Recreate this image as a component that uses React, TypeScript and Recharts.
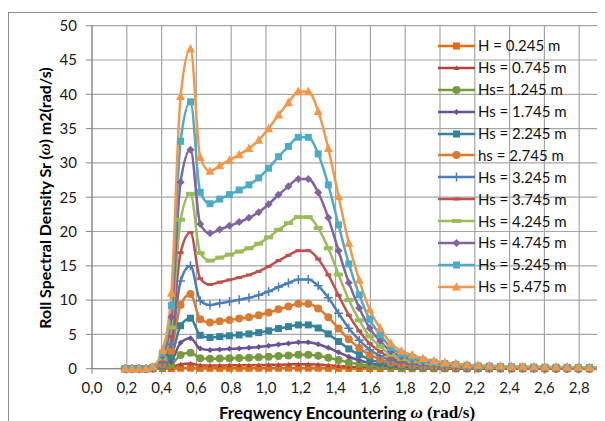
import React from 'react';
import { LineChart, Line, XAxis, YAxis, CartesianGrid, Legend, Customized } from 'recharts';

// encounter frequency (rad/s)
const FREQ = [0.19, 0.23, 0.27, 0.31, 0.35, 0.405, 0.456, 0.509, 0.566, 0.622, 0.678, 0.734, 0.79, 0.846, 0.902, 0.958, 1.015, 1.072, 1.129, 1.186, 1.243, 1.3, 1.358, 1.417, 1.476, 1.536, 1.596, 1.656, 1.717, 1.778, 1.84, 1.902, 1.965, 2.028, 2.091, 2.155, 2.219, 2.283, 2.347, 2.411, 2.475, 2.539, 2.603, 2.667, 2.731, 2.795, 2.859, 2.923, 2.987];

const HS_0245 = [0, 0, 0, 0, 0, 0.01, 0.02, 0.08, 0.09, 0.06, 0.06, 0.06, 0.06, 0.06, 0.06, 0.07, 0.07, 0.07, 0.08, 0.08, 0.08, 0.08, 0.06, 0.05, 0.04, 0.03, 0.02, 0.01, 0.01, 0.01, 0, 0, 0, 0, 0, 0, 0, 0, 0, 0, 0, 0, 0, 0, 0, 0, 0, 0, 0];
const HS_0745 = [0, 0, 0, 0, 0, 0.04, 0.18, 0.64, 0.75, 0.49, 0.46, 0.47, 0.49, 0.5, 0.51, 0.53, 0.56, 0.59, 0.62, 0.65, 0.65, 0.6, 0.51, 0.4, 0.29, 0.21, 0.14, 0.09, 0.06, 0.04, 0.03, 0.02, 0.02, 0.01, 0.01, 0.01, 0.01, 0, 0, 0, 0, 0, 0, 0, 0, 0, 0, 0, 0];
const HS_1245 = [0, 0, 0, 0, 0.02, 0.14, 0.55, 1.99, 2.33, 1.54, 1.44, 1.48, 1.52, 1.56, 1.61, 1.67, 1.75, 1.85, 1.94, 2.02, 2.02, 1.88, 1.61, 1.26, 0.92, 0.65, 0.43, 0.3, 0.19, 0.13, 0.1, 0.08, 0.06, 0.05, 0.04, 0.03, 0.03, 0.02, 0.02, 0.02, 0.02, 0.02, 0.01, 0.01, 0.01, 0.01, 0.01, 0.01, 0.01];
const HS_1745 = [0, 0, 0, 0, 0.03, 0.26, 1.05, 3.77, 4.43, 2.93, 2.74, 2.81, 2.89, 2.96, 3.05, 3.16, 3.33, 3.52, 3.69, 3.84, 3.84, 3.56, 3.05, 2.38, 1.74, 1.23, 0.82, 0.56, 0.35, 0.25, 0.19, 0.14, 0.11, 0.09, 0.07, 0.06, 0.05, 0.04, 0.04, 0.03, 0.03, 0.03, 0.03, 0.02, 0.02, 0.02, 0.02, 0.02, 0.02];
const HS_2245 = [0, 0, 0, 0, 0.05, 0.43, 1.74, 6.27, 7.36, 4.87, 4.55, 4.68, 4.8, 4.93, 5.07, 5.26, 5.53, 5.85, 6.13, 6.38, 6.38, 5.93, 5.07, 3.97, 2.89, 2.04, 1.36, 0.93, 0.58, 0.41, 0.32, 0.24, 0.18, 0.14, 0.12, 0.09, 0.08, 0.07, 0.06, 0.06, 0.05, 0.05, 0.04, 0.04, 0.04, 0.03, 0.03, 0.03, 0.03];
const HS_2745 = [0, 0, 0, 0, 0.07, 0.63, 2.57, 9.29, 10.9, 7.21, 6.74, 6.93, 7.11, 7.3, 7.51, 7.79, 8.19, 8.66, 9.08, 9.45, 9.45, 8.78, 7.51, 5.87, 4.28, 3.02, 2.01, 1.38, 0.87, 0.61, 0.47, 0.35, 0.27, 0.21, 0.18, 0.14, 0.12, 0.11, 0.09, 0.08, 0.07, 0.07, 0.07, 0.06, 0.06, 0.05, 0.05, 0.04, 0.04];
const HS_3245 = [0, 0, 0, 0, 0.1, 0.87, 3.54, 12.78, 15.01, 9.92, 9.27, 9.53, 9.79, 10.05, 10.34, 10.72, 11.27, 11.91, 12.49, 13.01, 13.01, 12.08, 10.34, 8.08, 5.89, 4.15, 2.77, 1.9, 1.19, 0.84, 0.64, 0.48, 0.37, 0.29, 0.24, 0.19, 0.16, 0.14, 0.13, 0.11, 0.1, 0.1, 0.09, 0.08, 0.08, 0.07, 0.06, 0.06, 0.06];
const HS_3745 = [0, 0, 0, 0, 0.13, 1.15, 4.69, 16.91, 19.85, 13.12, 12.27, 12.61, 12.95, 13.29, 13.67, 14.19, 14.91, 15.76, 16.53, 17.21, 17.21, 15.98, 13.67, 10.69, 7.8, 5.5, 3.66, 2.51, 1.58, 1.11, 0.85, 0.64, 0.49, 0.38, 0.32, 0.26, 0.21, 0.19, 0.17, 0.15, 0.14, 0.13, 0.12, 0.11, 0.1, 0.09, 0.09, 0.08, 0.08];
const HS_4245 = [0, 0, 0, 0, 0.16, 1.48, 6.02, 21.72, 25.49, 16.85, 15.75, 16.19, 16.63, 17.07, 17.56, 18.22, 19.15, 20.24, 21.22, 22.1, 22.1, 20.51, 17.56, 13.73, 10.01, 7.06, 4.7, 3.23, 2.02, 1.42, 1.09, 0.82, 0.63, 0.49, 0.41, 0.33, 0.27, 0.25, 0.22, 0.19, 0.18, 0.16, 0.15, 0.14, 0.13, 0.12, 0.11, 0.1, 0.1];
const HS_4745 = [0, 0, 0, 0, 0.21, 1.85, 7.54, 27.19, 31.92, 21.1, 19.73, 20.28, 20.82, 21.37, 21.99, 22.81, 23.98, 25.35, 26.58, 27.67, 27.67, 25.69, 21.99, 17.19, 12.54, 8.84, 5.89, 4.04, 2.53, 1.78, 1.37, 1.03, 0.79, 0.62, 0.51, 0.41, 0.34, 0.31, 0.27, 0.24, 0.22, 0.21, 0.19, 0.18, 0.16, 0.15, 0.14, 0.13, 0.12];
const HS_5245 = [0, 0, 0, 0, 0.25, 2.25, 9.19, 33.15, 38.91, 25.72, 24.05, 24.72, 25.38, 26.05, 26.8, 27.81, 29.23, 30.9, 32.4, 33.73, 33.73, 31.31, 26.8, 20.96, 15.28, 10.77, 7.18, 4.93, 3.09, 2.17, 1.67, 1.25, 0.96, 0.75, 0.63, 0.5, 0.42, 0.38, 0.33, 0.29, 0.27, 0.25, 0.23, 0.22, 0.2, 0.18, 0.17, 0.16, 0.15];
const HS_5475 = [0, 0, 0, 0, 0.3, 2.7, 11.0, 39.7, 46.6, 30.8, 28.8, 29.6, 30.4, 31.2, 32.1, 33.3, 35.0, 37.0, 38.8, 40.4, 40.4, 37.5, 32.1, 25.1, 18.3, 12.9, 8.6, 5.9, 3.7, 2.6, 2.0, 1.5, 1.15, 0.9, 0.75, 0.6, 0.5, 0.45, 0.4, 0.35, 0.32, 0.3, 0.28, 0.26, 0.24, 0.22, 0.2, 0.19, 0.18];

const SERIES_NAMES = ['H = 0.245 m', 'Hs = 0.745 m', 'Hs= 1.245 m', 'Hs = 1.745 m', 'Hs = 2.245 m', 'hs = 2.745 m', 'Hs = 3.245 m', 'Hs = 3.745 m', 'Hs = 4.245 m', 'Hs = 4.745 m', 'Hs = 5.245 m', 'Hs = 5.475 m'];
const SERIES_VALUES = [HS_0245, HS_0745, HS_1245, HS_1745, HS_2245, HS_2745, HS_3245, HS_3745, HS_4245, HS_4745, HS_5245, HS_5475];

const X_TICKS = [0, 0.2, 0.4, 0.6, 0.8, 1.0, 1.2, 1.4, 1.6, 1.8, 2.0, 2.2, 2.4, 2.6, 2.8, 3.0];
const Y_TICKS = [0, 5, 10, 15, 20, 25, 30, 35, 40, 45, 50];

type Shape = 'square' | 'triangle' | 'circle' | 'diamond' | 'plus' | 'dash';

const STYLES: { color: string; shape: Shape; size: number }[] = [
  { color: '#E46C0A', shape: 'square', size: 7 },
  { color: '#B3423F', shape: 'triangle', size: 5 },
  { color: '#779A3E', shape: 'circle', size: 8 },
  { color: '#6A5196', shape: 'diamond', size: 6 },
  { color: '#31849B', shape: 'square', size: 7 },
  { color: '#DA7B31', shape: 'circle', size: 8 },
  { color: '#4A7EBB', shape: 'plus', size: 9 },
  { color: '#C0504D', shape: 'dash', size: 6 },
  { color: '#9BBB59', shape: 'dash', size: 9 },
  { color: '#8064A2', shape: 'diamond', size: 8 },
  { color: '#4BACC6', shape: 'square', size: 7 },
  { color: '#F79646', shape: 'triangle', size: 9 },
];

const FONT = 'Lato, "Liberation Sans", sans-serif';

const data = FREQ.map((x, i) => {
  const row: Record<string, number> = { x };
  SERIES_VALUES.forEach((vals, s) => {
    row[`s${s}`] = vals[i];
  });
  return row;
});

const marker = (shape: Shape, size: number, color: string, cx: number, cy: number, key: string) => {
  const h = size / 2;
  switch (shape) {
    case 'square':
      return <rect key={key} x={cx - h} y={cy - h} width={size} height={size} fill={color} />;
    case 'circle':
      return <circle key={key} cx={cx} cy={cy} r={h} fill={color} />;
    case 'triangle':
      return <polygon key={key} points={`${cx},${cy - h * 1.1} ${cx + h},${cy + h * 0.8} ${cx - h},${cy + h * 0.8}`} fill={color} />;
    case 'diamond':
      return <polygon key={key} points={`${cx},${cy - h} ${cx + h},${cy} ${cx},${cy + h} ${cx - h},${cy}`} fill={color} />;
    case 'plus':
      return <path key={key} d={`M${cx - h},${cy}H${cx + h}M${cx},${cy - h}V${cy + h}`} stroke={color} strokeWidth={1.5} />;
    case 'dash':
    default:
      return <rect key={key} x={cx - h} y={cy - size / 6 - 0.5} width={size} height={size / 3 + 1} fill={color} />;
  }
};

const LegendBox = () => (
  <div style={{ fontFamily: FONT, fontSize: 15, color: '#111', lineHeight: 1 }}>
    {SERIES_NAMES.map((name, i) => {
      const st = STYLES[i];
      return (
        <div key={name} style={{ display: 'flex', alignItems: 'center', height: 21.9 }}>
          <svg width={37} height={14} style={{ display: 'block' }}>
            <line x1={0} y1={7} x2={37} y2={7} stroke={st.color} strokeWidth={2.5} />
            {marker(st.shape, st.size, st.color, 18.5, 7, `lg${i}`)}
          </svg>
          <span style={{ marginLeft: 3, whiteSpace: 'nowrap' }}>{name}</span>
        </div>
      );
    })}
  </div>
);

const AxisTitles = () => (
  <g fontFamily={FONT} fontWeight="bold" fill="#000">
    <text transform="rotate(-90)" x={-190} y={36} textAnchor="middle" dominantBaseline="central" fontSize={16}>
      Roll Spectral Density Sr (<tspan fontFamily='"Liberation Serif", serif' fontStyle="italic">ω</tspan>) m2(rad/s)
    </text>
    <text x={339} y={404} textAnchor="middle" dominantBaseline="central" fontSize={17}>
      Freqwency Encountering <tspan fontFamily='"Liberation Serif", serif' fontStyle="italic">ω</tspan>
      <tspan fontFamily='"Liberation Serif", serif'> (rad/s)</tspan>
    </text>
  </g>
);

const App = () => {
  const tick = { fill: '#1a1a1a', fontSize: 15, fontFamily: FONT };
  return (
    <div style={{ width: 597, height: 413, overflow: 'hidden', position: 'relative', background: '#fff' }}>
      <div
        style={{
          position: 'absolute',
          left: 0,
          top: 3.5,
          width: 800,
          height: 600,
          borderTop: '1px solid #8c8c8c',
          borderLeft: '1px solid #8c8c8c',
        }}
      />
      <LineChart width={640} height={440} data={data} margin={{ top: 17.7, right: 34, left: 24, bottom: 49.3 }}>
        <CartesianGrid stroke="#a6a6a6" strokeWidth={1.2} />
        <XAxis
          dataKey="x"
          type="number"
          domain={[0, 3]}
          ticks={X_TICKS}
          tickFormatter={(v: number) => v.toFixed(1).replace('.', ',')}
          tick={tick}
          tickSize={5}
          tickMargin={9}
          axisLine={{ stroke: '#868686' }}
          tickLine={{ stroke: '#868686' }}
          height={30}
          interval={0}
        />
        <YAxis
          type="number"
          domain={[0, 50]}
          ticks={Y_TICKS}
          tick={tick}
          tickSize={6}
          tickMargin={9}
          axisLine={{ stroke: '#868686' }}
          tickLine={{ stroke: '#868686' }}
          width={60}
          interval={0}
        />
        <Legend
          layout="vertical"
          align="center"
          verticalAlign="middle"
          wrapperStyle={{ left: 430, top: 27, width: 170, height: 265 }}
          content={() => <LegendBox />}
        />
        {SERIES_NAMES.map((name, i) => {
          const st = STYLES[i];
          return (
            <Line
              key={name}
              name={name}
              type="monotone"
              dataKey={`s${i}`}
              stroke={st.color}
              strokeWidth={2.5}
              isAnimationActive={false}
              activeDot={false}
              dot={(p: any) =>
                p.cx == null || p.cy == null ? <g key={`d${i}-${p.index}`} /> : marker(st.shape, st.size, st.color, p.cx, p.cy, `d${i}-${p.index}`)
              }
            />
          );
        })}
        <Customized component={AxisTitles} />
      </LineChart>
    </div>
  );
};

export default App;
